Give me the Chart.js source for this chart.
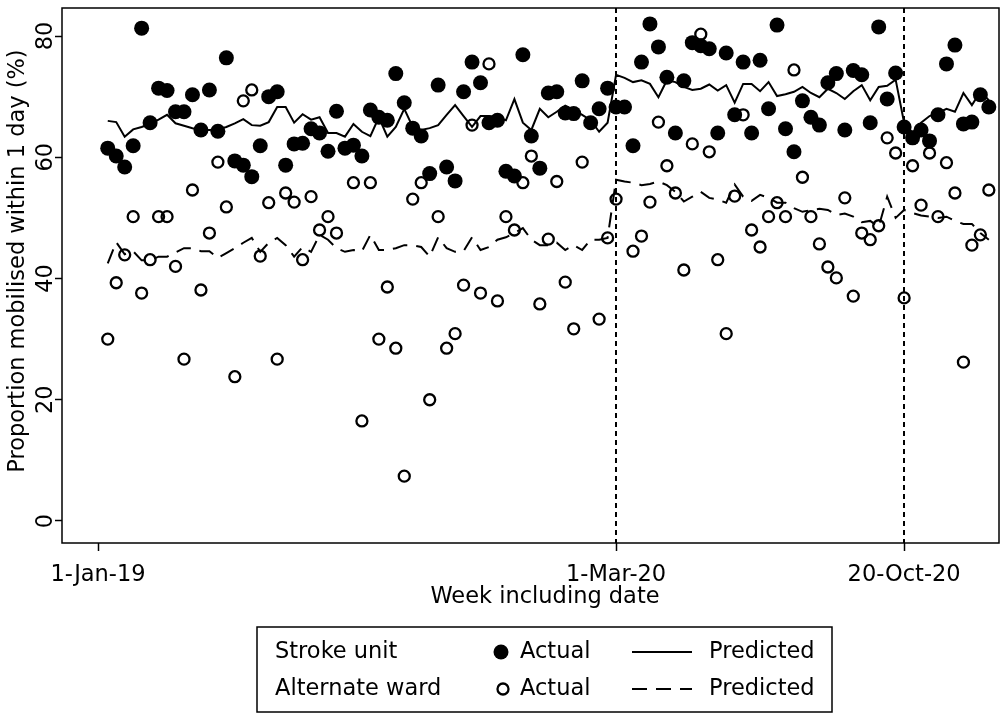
<!DOCTYPE html>
<html>
<head>
<meta charset="utf-8">
<script src="https://cdn.jsdelivr.net/npm/chart.js@4.4.1/dist/chart.umd.min.js"></script>
<style>
  body { margin: 0; background: #fff; }
  canvas { display: block; }
</style>
</head>
<body>
<canvas id="mobChart" width="1001" height="713"></canvas>
<script>
// Weekly proportions (%), one entry per week starting with the first week of 2019
const strokeActual = [
  61.5, 60.2, 58.4, 61.9, 81.3, 65.7, 71.4, 71.0, 67.5, 67.5,
  70.3, 64.5, 71.1, 64.3, 76.4, 59.4, 58.7, 56.8, 61.9, 70.0,
  70.8, 58.7, 62.2, 62.3, 64.7, 64.0, 61.0, 67.6, 61.5, 62.0,
  60.2, 67.8, 66.6, 66.1, 73.8, 69.0, 64.8, 63.5, 57.3, 71.9,
  58.4, 56.1, 70.8, 75.7, 72.3, 65.7, 66.1, 57.7, 56.9, 76.9,
  63.5, 58.2, 70.6, 70.8, 67.3, 67.2, 72.6, 65.7, 68.0, 71.4,
  68.3, 68.3, 61.9, 75.7, 82.0, 78.2, 73.2, 64.0, 72.6, 78.9,
  78.4, 77.9, 64.0, 77.2, 67.0, 75.7, 64.0, 76.0, 68.0, 81.8,
  64.7, 60.9, 69.3, 66.6, 65.3, 72.3, 73.8, 64.5, 74.3, 73.6,
  65.7, 81.5, 69.6, 73.9, 65.0, 63.2, 64.5, 62.7, 67.0, 75.4,
  78.5, 65.5, 65.8, 70.3, 68.3
];
const strokePredicted = [
  66.0, 65.8, 63.4, 64.6, 65.0, 65.5, 66.2, 67.0, 65.6, 65.2,
  64.8, 64.5, 64.5, 64.6, 65.0, 65.6, 66.3, 65.3, 65.2, 65.8,
  68.3, 68.3, 65.7, 67.1, 66.2, 66.6, 64.0, 64.0, 63.4, 65.5,
  64.2, 63.5, 66.6, 63.4, 65.0, 68.0, 65.0, 64.5, 64.8, 65.3,
  67.0, 68.6, 66.8, 65.0, 66.8, 66.8, 66.6, 66.1, 69.6, 65.7,
  64.5, 68.0, 66.6, 67.5, 68.5, 67.8, 67.0, 66.1, 64.2, 65.7,
  73.6, 73.1, 72.4, 72.7, 72.1, 69.9, 72.7, 72.4, 71.6, 71.1,
  71.3, 72.0, 71.0, 71.9, 69.0, 72.1, 72.1, 70.9, 72.4, 70.1,
  70.4, 70.8, 71.6, 70.6, 69.9, 71.3, 70.6, 69.6, 70.9, 71.9,
  69.4, 71.6, 71.8, 72.8, 65.7, 64.0, 65.7, 66.8, 67.3, 68.0,
  67.5, 70.6, 68.6, 70.8, 69.4
];
const altActual = [
  30.0, 39.3, 43.9, 50.2, 37.6, 43.1, 50.2, 50.2, 42.0, 26.7,
  54.6, 38.1, 47.5, 59.2, 51.8, 23.8, 69.3, 71.1, 43.7, 52.5,
  26.7, 54.1, 52.6, 43.1, 53.5, 48.0, 50.2, 47.5, null, 55.8,
  16.5, 55.8, 30.0, 38.6, 28.5, 7.4, 53.1, 55.8, 20.0, 50.2,
  28.5, 30.9, 38.9, 65.3, 37.6, 75.4, 36.3, 50.2, 48.0, 55.8,
  60.2, 35.8, 46.5, 56.0, 39.4, 31.7, 59.2, null, 33.3, 46.7,
  53.1, null, 44.5, 47.0, 52.6, 65.8, 58.6, 54.1, 41.4, 62.2,
  80.3, 60.9, 43.1, 30.9, 53.6, 67.0, 48.0, 45.2, 50.2, 52.5,
  50.2, 74.4, 56.7, 50.2, 45.7, 41.9, 40.1, 53.3, 37.1, 47.5,
  46.4, 48.7, 63.2, 60.7, 36.8, 58.6, 52.1, 60.7, 50.2, 59.1,
  54.1, 26.2, 45.5, 47.2, 54.6
];
const altPredicted = [
  42.5, 46.0, 44.0, 44.5, 43.0, 43.0, 43.6, 43.6, 44.3, 45.0,
  45.0, 44.5, 44.5, 43.4, 44.2, 45.0, 45.9, 46.7, 44.4, 45.9,
  46.7, 45.5, 43.6, 45.2, 44.4, 47.2, 46.4, 45.0, 44.4, 44.7,
  44.5, 47.2, 44.7, 44.7, 45.0, 45.5, 45.5, 45.2, 43.6, 46.8,
  45.0, 44.4, 44.5, 46.8, 44.7, 45.2, 46.4, 46.8, 47.5, 48.3,
  46.4, 45.5, 45.5, 45.9, 44.7, 45.5, 44.7, 46.4, 46.4, 46.7,
  56.3, 56.0, 55.8, 55.4, 55.6, 56.0, 55.4, 54.3, 52.7, 53.5,
  54.3, 53.3, 53.0, 52.5, 55.5, 53.5, 52.8, 53.8, 53.3, 52.5,
  52.5, 51.6, 51.0, 51.3, 51.5, 51.3, 50.5, 50.7, 50.2, 49.3,
  49.5, 48.5, 53.5, 50.0, 51.3, 50.8, 50.4, 50.2, 50.0, 50.2,
  49.5, 49.0, 49.0, 47.5, 46.4
];

// x axis labels (week number each date falls in) and the two period breaks
const tickWeeks = [-1.15, 60, 94];
const tickLabels = ["1-Jan-19", "1-Mar-20", "20-Oct-20"];
const breakWeeks = [60, 94];
const yTicks = [0, 20, 40, 60, 80];

const FONT = "'DejaVu Sans', sans-serif";
const FONT_SIZE = 22.5;

const toPoints = arr => arr.map((v, i) => ({ x: i, y: v }));

const extras = {
  id: 'extras',
  beforeDatasetsDraw(chart) {
    const { ctx, chartArea: a, scales: { x } } = chart;
    ctx.save();
    ctx.strokeStyle = '#000';
    ctx.lineWidth = 2;
    ctx.setLineDash([5, 4]);
    breakWeeks.forEach(w => {
      const px = Math.round(x.getPixelForValue(w));
      ctx.beginPath();
      ctx.moveTo(px, a.top);
      ctx.lineTo(px, a.bottom);
      ctx.stroke();
    });
    ctx.restore();
  },
  afterDraw(chart) {
    const { ctx, chartArea: a, scales: { y } } = chart;
    ctx.save();
    ctx.strokeStyle = '#000';
    ctx.fillStyle = '#000';
    ctx.lineWidth = 1.5;
    ctx.setLineDash([]);
    ctx.strokeRect(a.left, a.top, a.right - a.left, a.bottom - a.top);

    // rotated y tick labels
    ctx.font = FONT_SIZE + 'px ' + FONT;
    ctx.textAlign = 'center';
    ctx.textBaseline = 'middle';
    yTicks.forEach(v => {
      ctx.save();
      ctx.translate(46, y.getPixelForValue(v));
      ctx.rotate(-Math.PI / 2);
      ctx.fillText(String(v), 0, 0);
      ctx.restore();
    });

    // axis titles
    ctx.save();
    ctx.translate(18, 261);
    ctx.rotate(-Math.PI / 2);
    ctx.fillText('Proportion mobilised within 1 day (%)', 0, 0);
    ctx.restore();
    ctx.fillText('Week including date', 545, 597);

    // legend box
    const L = 257, T = 627, R = 832, B = 712;
    ctx.lineWidth = 1.5;
    ctx.strokeRect(L, T, R - L, B - T);
    const rows = [652, 689];
    ctx.textAlign = 'left';
    ctx.fillText('Stroke unit', 275, rows[0]);
    ctx.fillText('Alternate ward', 275, rows[1]);
    ctx.fillText('Actual', 520, rows[0]);
    ctx.fillText('Actual', 520, rows[1]);
    ctx.fillText('Predicted', 709, rows[0]);
    ctx.fillText('Predicted', 709, rows[1]);

    ctx.beginPath();
    ctx.arc(501, rows[0], 7.5, 0, Math.PI * 2);
    ctx.fill();
    ctx.lineWidth = 2.3;
    ctx.beginPath();
    ctx.arc(503, rows[1], 5.5, 0, Math.PI * 2);
    ctx.stroke();

    ctx.lineWidth = 2;
    ctx.beginPath();
    ctx.moveTo(632, rows[0]);
    ctx.lineTo(692, rows[0]);
    ctx.stroke();
    ctx.setLineDash([15, 9]);
    ctx.beginPath();
    ctx.moveTo(632, rows[1]);
    ctx.lineTo(692, rows[1]);
    ctx.stroke();
    ctx.restore();
  }
};

const ctx = document.getElementById('mobChart').getContext('2d');
new Chart(ctx, {
  type: 'scatter',
  data: {
    datasets: [
      {
        label: 'Stroke unit actual',
        data: toPoints(strokeActual),
        pointRadius: 7.5,
        pointBackgroundColor: '#000',
        pointBorderWidth: 0,
        showLine: false
      },
      {
        label: 'Alternate ward actual',
        data: toPoints(altActual),
        pointRadius: 5.5,
        pointBackgroundColor: 'rgba(0,0,0,0)',
        pointBorderColor: '#000',
        pointBorderWidth: 2.3,
        showLine: false
      },
      {
        label: 'Stroke unit predicted',
        data: toPoints(strokePredicted),
        showLine: true,
        borderColor: '#000',
        borderWidth: 2,
        pointRadius: 0,
        tension: 0
      },
      {
        label: 'Alternate ward predicted',
        data: toPoints(altPredicted),
        showLine: true,
        borderColor: '#000',
        borderWidth: 2,
        borderDash: [15, 9],
        pointRadius: 0,
        tension: 0
      }
    ]
  },
  options: {
    responsive: false,
    devicePixelRatio: 1,
    animation: false,
    layout: { autoPadding: false, padding: { left: 0, right: 2, top: 8, bottom: 103 } },
    plugins: { legend: { display: false }, tooltip: { enabled: false } },
    scales: {
      x: {
        type: 'linear',
        min: -5.4,
        max: 105.2,
        afterBuildTicks: s => { s.ticks = tickWeeks.map(v => ({ value: v })); },
        afterFit: s => { s.height = 67; s.paddingLeft = 0; s.paddingRight = 0; },
        ticks: {
          color: '#000',
          font: { family: FONT, size: FONT_SIZE },
          padding: 11,
          maxRotation: 0,
          callback: (v, i) => tickLabels[i]
        },
        grid: { drawOnChartArea: false, tickLength: 8, tickColor: '#000', tickWidth: 1.5 },
        border: { display: false }
      },
      y: {
        min: -3.63,
        max: 84.62,
        afterBuildTicks: s => { s.ticks = yTicks.map(v => ({ value: v })); },
        afterFit: s => { s.width = 62; },
        ticks: { display: false },
        grid: { drawOnChartArea: false, tickLength: 7, tickColor: '#000', tickWidth: 1.5 },
        border: { display: false }
      }
    }
  },
  plugins: [extras]
});
</script>
</body>
</html>
